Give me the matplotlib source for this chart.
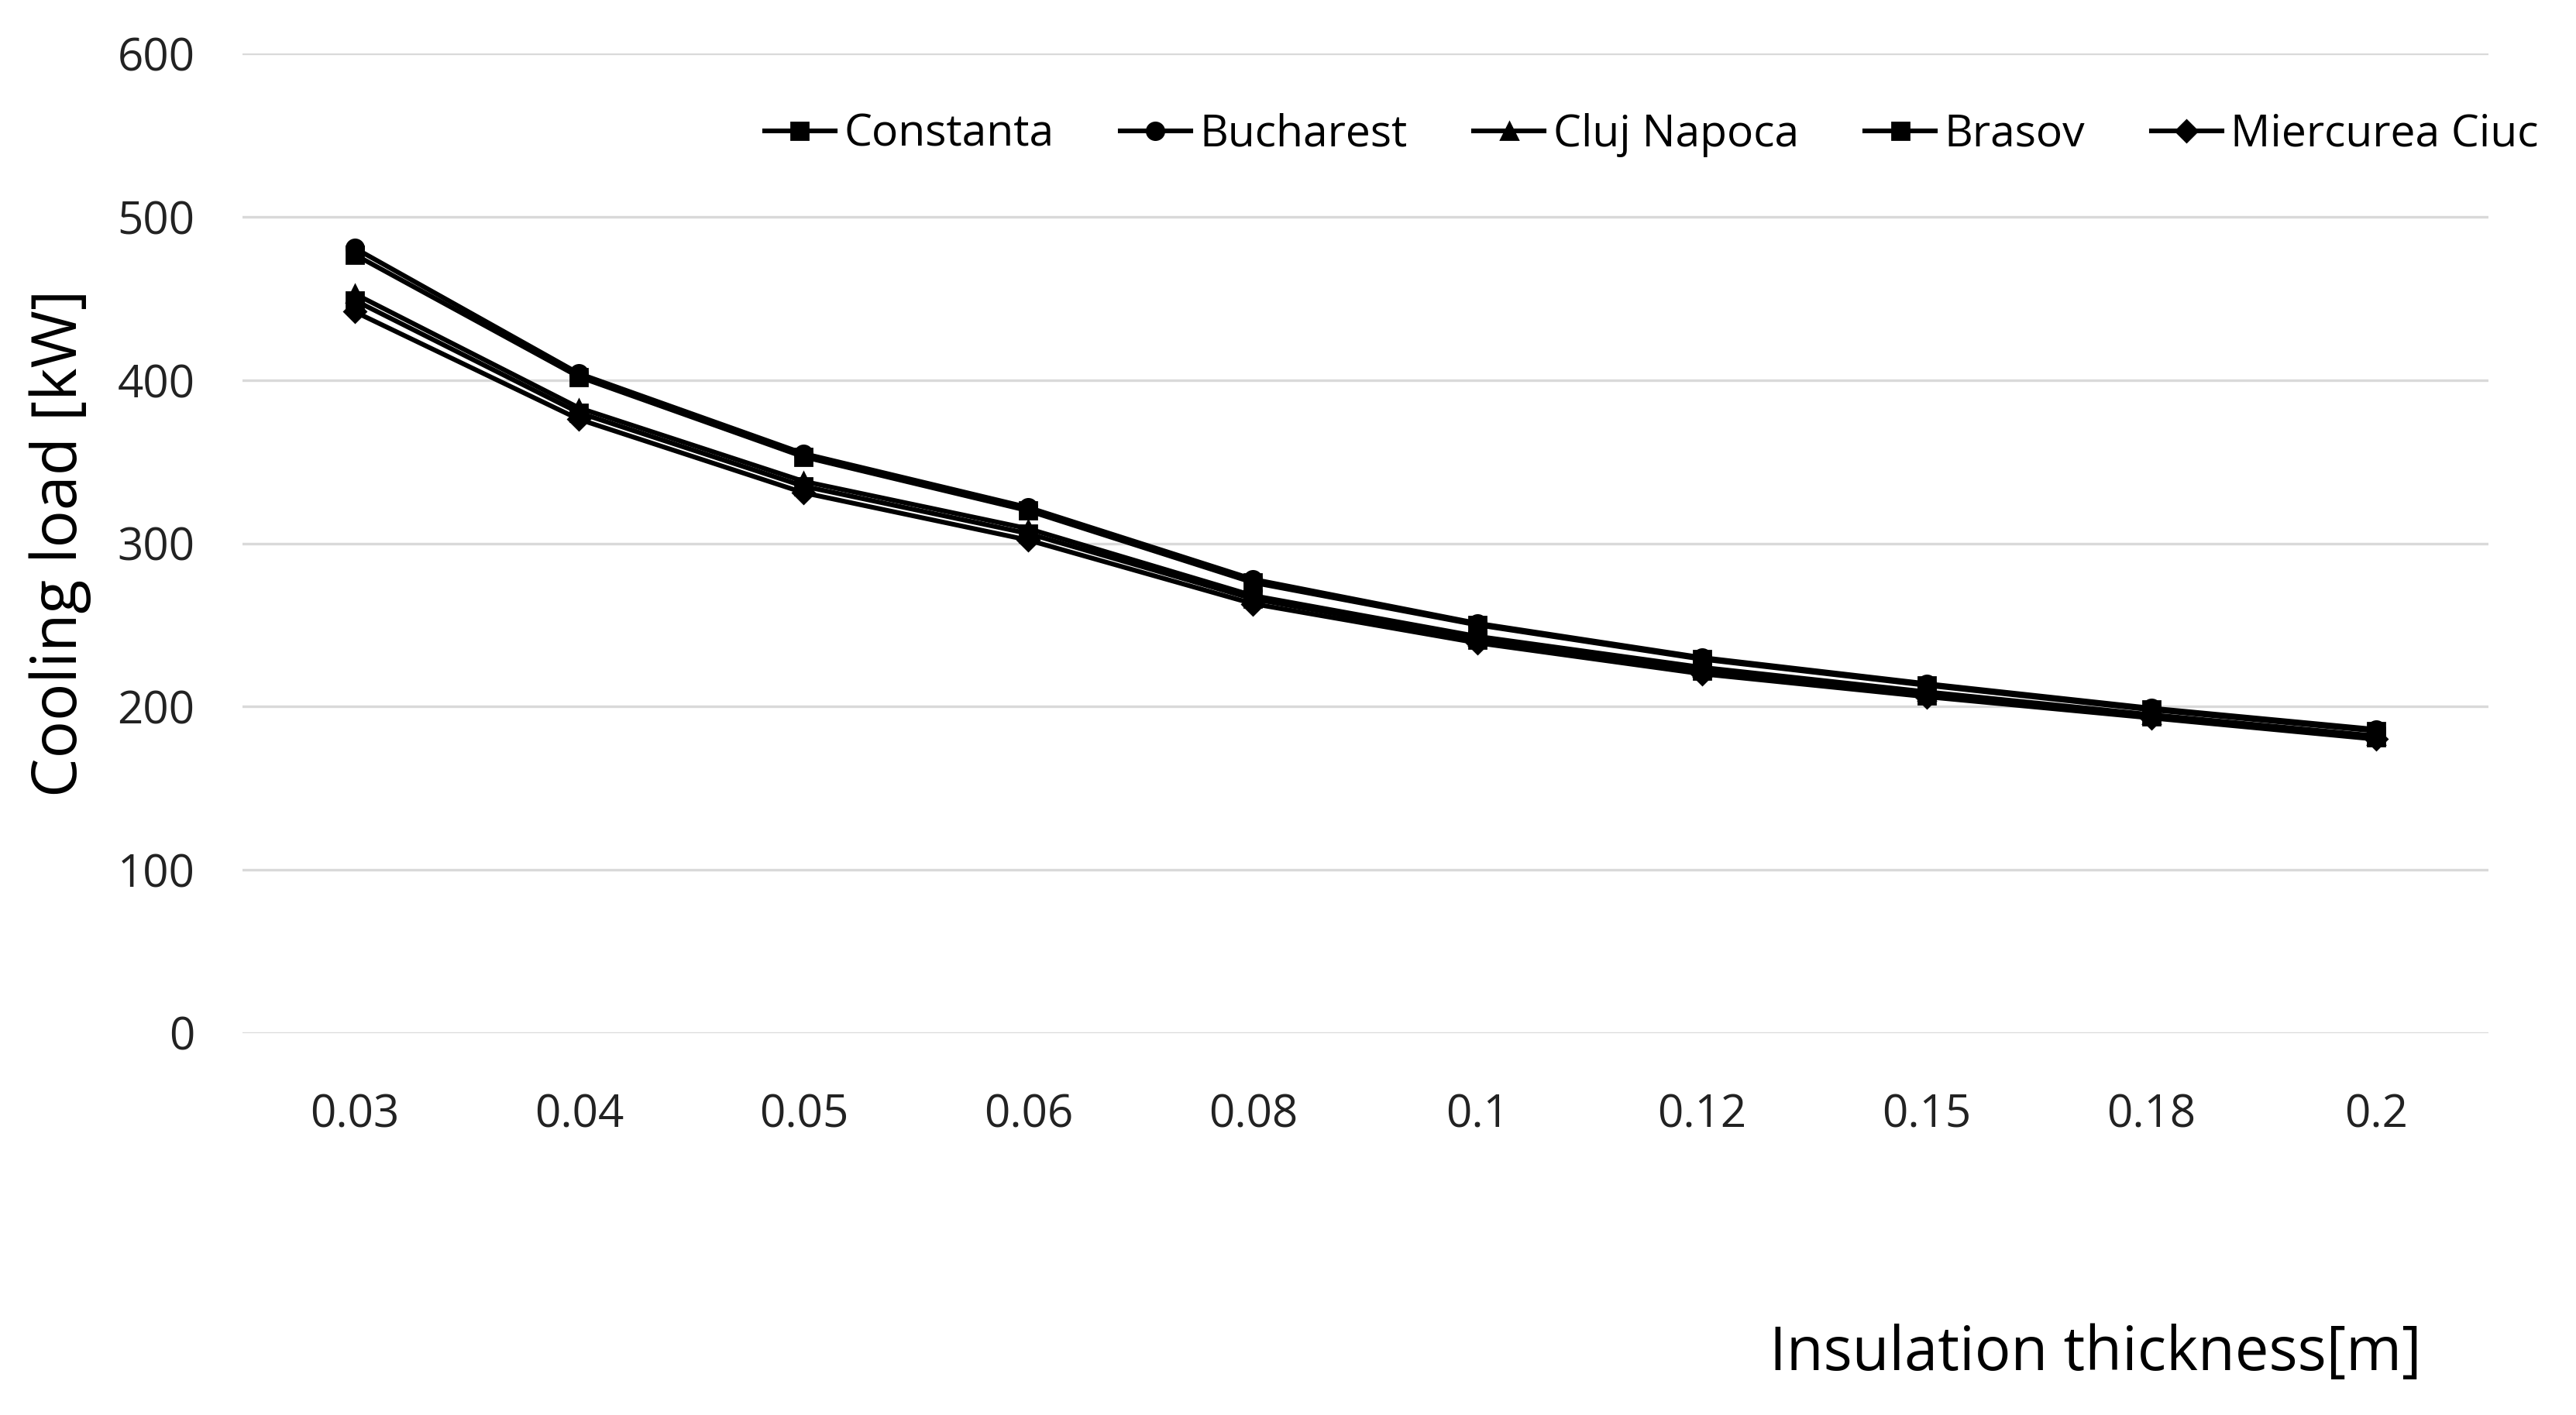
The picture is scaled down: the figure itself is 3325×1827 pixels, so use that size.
import matplotlib.pyplot as plt

thickness = ["0.03", "0.04", "0.05", "0.06", "0.08", "0.1", "0.12", "0.15", "0.18", "0.2"]

constanta = [477, 402, 353, 320, 276, 250, 229, 213, 198, 185]
bucharest = [481, 404, 355, 322, 278, 251, 230, 214, 199, 186]
cluj_napoca = [453, 383, 338, 309, 268, 243, 224, 209, 195, 182]
brasov = [449, 380, 335, 306, 266, 241, 222, 207, 194, 181]
miercurea_ciuc = [442, 376, 331, 302, 263, 239, 220, 206, 193, 180]

series = [
    ("Constanta", constanta, "s"),
    ("Bucharest", bucharest, "o"),
    ("Cluj Napoca", cluj_napoca, "^"),
    ("Brasov", brasov, "s"),
    ("Miercurea Ciuc", miercurea_ciuc, "D"),
]

plt.rcParams['font.family'] = ['Open Sans', 'DejaVu Sans']

fig = plt.figure(figsize=(16.625, 9.135), dpi=200)
ax = fig.add_axes([0.094, 0.270, 0.872, 0.692])

x = range(len(thickness))
for name, values, marker in series:
    ms = 7 if marker == "D" else 8
    ax.plot(x, values, color="black", linewidth=2.2, marker=marker,
            markersize=ms, label=name)

ax.set_ylim(0, 600)
ax.set_yticks(range(0, 601, 100))
ax.set_xlim(-0.5, len(thickness) - 0.5)
ax.set_xticks(list(x))
ax.set_xticklabels(thickness)
ax.tick_params(axis="both", length=0, labelsize=21, colors="#222222")
ax.tick_params(axis="x", pad=28)
ax.tick_params(axis="y", pad=22)
ax.grid(axis="y", color="#d9d9d9", linewidth=1.2)
ax.set_axisbelow(True)
for s in ax.spines.values():
    s.set_visible(False)

ax.set_ylabel("Cooling load [kW]", fontsize=29, labelpad=12)
fig.text(0.94, 0.043, "Insulation thickness[m]", fontsize=28, ha="right", va="center")

ax.legend(loc="upper right", ncol=5, frameon=False, fontsize=20.5,
          bbox_to_anchor=(1.04, 0.98), handlelength=1.6, handletextpad=0.2,
          columnspacing=1.5)

fig.savefig("out.png", dpi=200, facecolor="white")
